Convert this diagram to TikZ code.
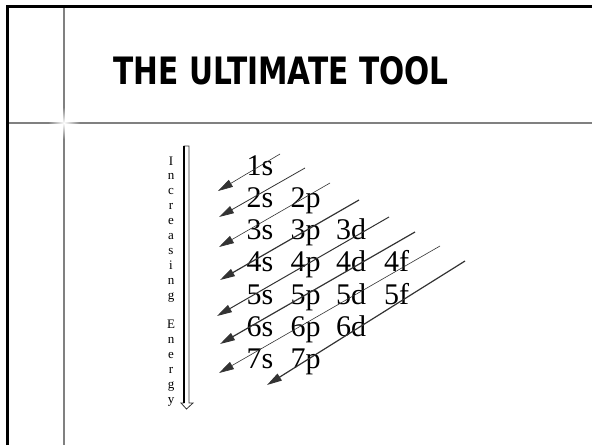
\documentclass[tikz,border=0pt]{standalone}
\usepackage{fontspec}
\usepackage{graphicx}
\setmainfont{Liberation Serif}
\newfontfamily\titlefont{DejaVu Sans}
\usetikzlibrary{arrows.meta,fadings}

\tikzfading[name=glow, inner color=transparent!0, outer color=transparent!100]

\tikzset{
  orbital/.style={font=\fontsize{30}{30}\selectfont, inner sep=0pt},
  energychar/.style={font=\fontsize{13}{13}\selectfont, inner sep=0pt},
  fillarrow/.style={draw=black!80, -{Triangle[length=15pt,width=8pt]}},
  rule/.style={draw=black!50, line width=2pt}
}

\begin{document}
\begin{tikzpicture}[x=1pt,y=-1pt]
    \useasboundingbox (0,0) rectangle (592,445);

    % Slide frame
    \draw[rule] (64,6) -- (64,445);
    \draw[rule] (6,123) -- (592,123);
    \fill[white, path fading=glow] (64,123) circle (16);
    \draw[line width=3pt] (7.5,445) -- (7.5,6.5) -- (592,6.5);

    % Title
    \node (title) at (281,71) {\resizebox{335pt}{28pt}{\titlefont\bfseries THE ULTIMATE TOOL}};

    % Increasing Energy
    \foreach \ch [count=\i from 0] in {I,n,c,r,e,a,s,i,n,g,{},E,n,e,r,g,y}
        \node[energychar, anchor=base] (e\i) at (171,{165+14.9*\i}) {\ch};
    \draw[black!80, line width=0.8pt] (184,146) -- (189,146) -- (189,403) -- (193,403)
        -- (186.5,409) -- (181,403) -- (184,403) -- cycle;
    \draw[line width=1.3pt] (184,146) -- (184,403);

    % Orbitals
    \foreach \n/\ls in {1/{s},2/{s,p},3/{s,p,d},4/{s,p,d,f},5/{s,p,d,f},6/{s,p,d},7/{s,p}}
        \foreach \l [count=\c from 0] in \ls
            \node[orbital, anchor=base] (o\n\l) at ({260+45.5*\c},{175+32.3*(\n-1)}) {\n\l};

    % Filling order
    \foreach \name/\sx/\sy/\ex/\ey/\w in {1s/280/154/218/191/0.6, 2s/305/168/219/217/0.8,
        3s/330/183/219/247/0.6, 4s/359/200/220/280/1.2, 5s/389/217/217/316/1.0,
        6s/415/232/220/344/1.2, 7s/440/246/219/373/0.6, 7p/465/261/267/385/1.2} {
        \coordinate (s\name) at (\sx,\sy);
        \coordinate (t\name) at (\ex,\ey);
        \draw[fillarrow, line width=\w pt] (s\name) -- (t\name);
    }
\end{tikzpicture}
\end{document}
